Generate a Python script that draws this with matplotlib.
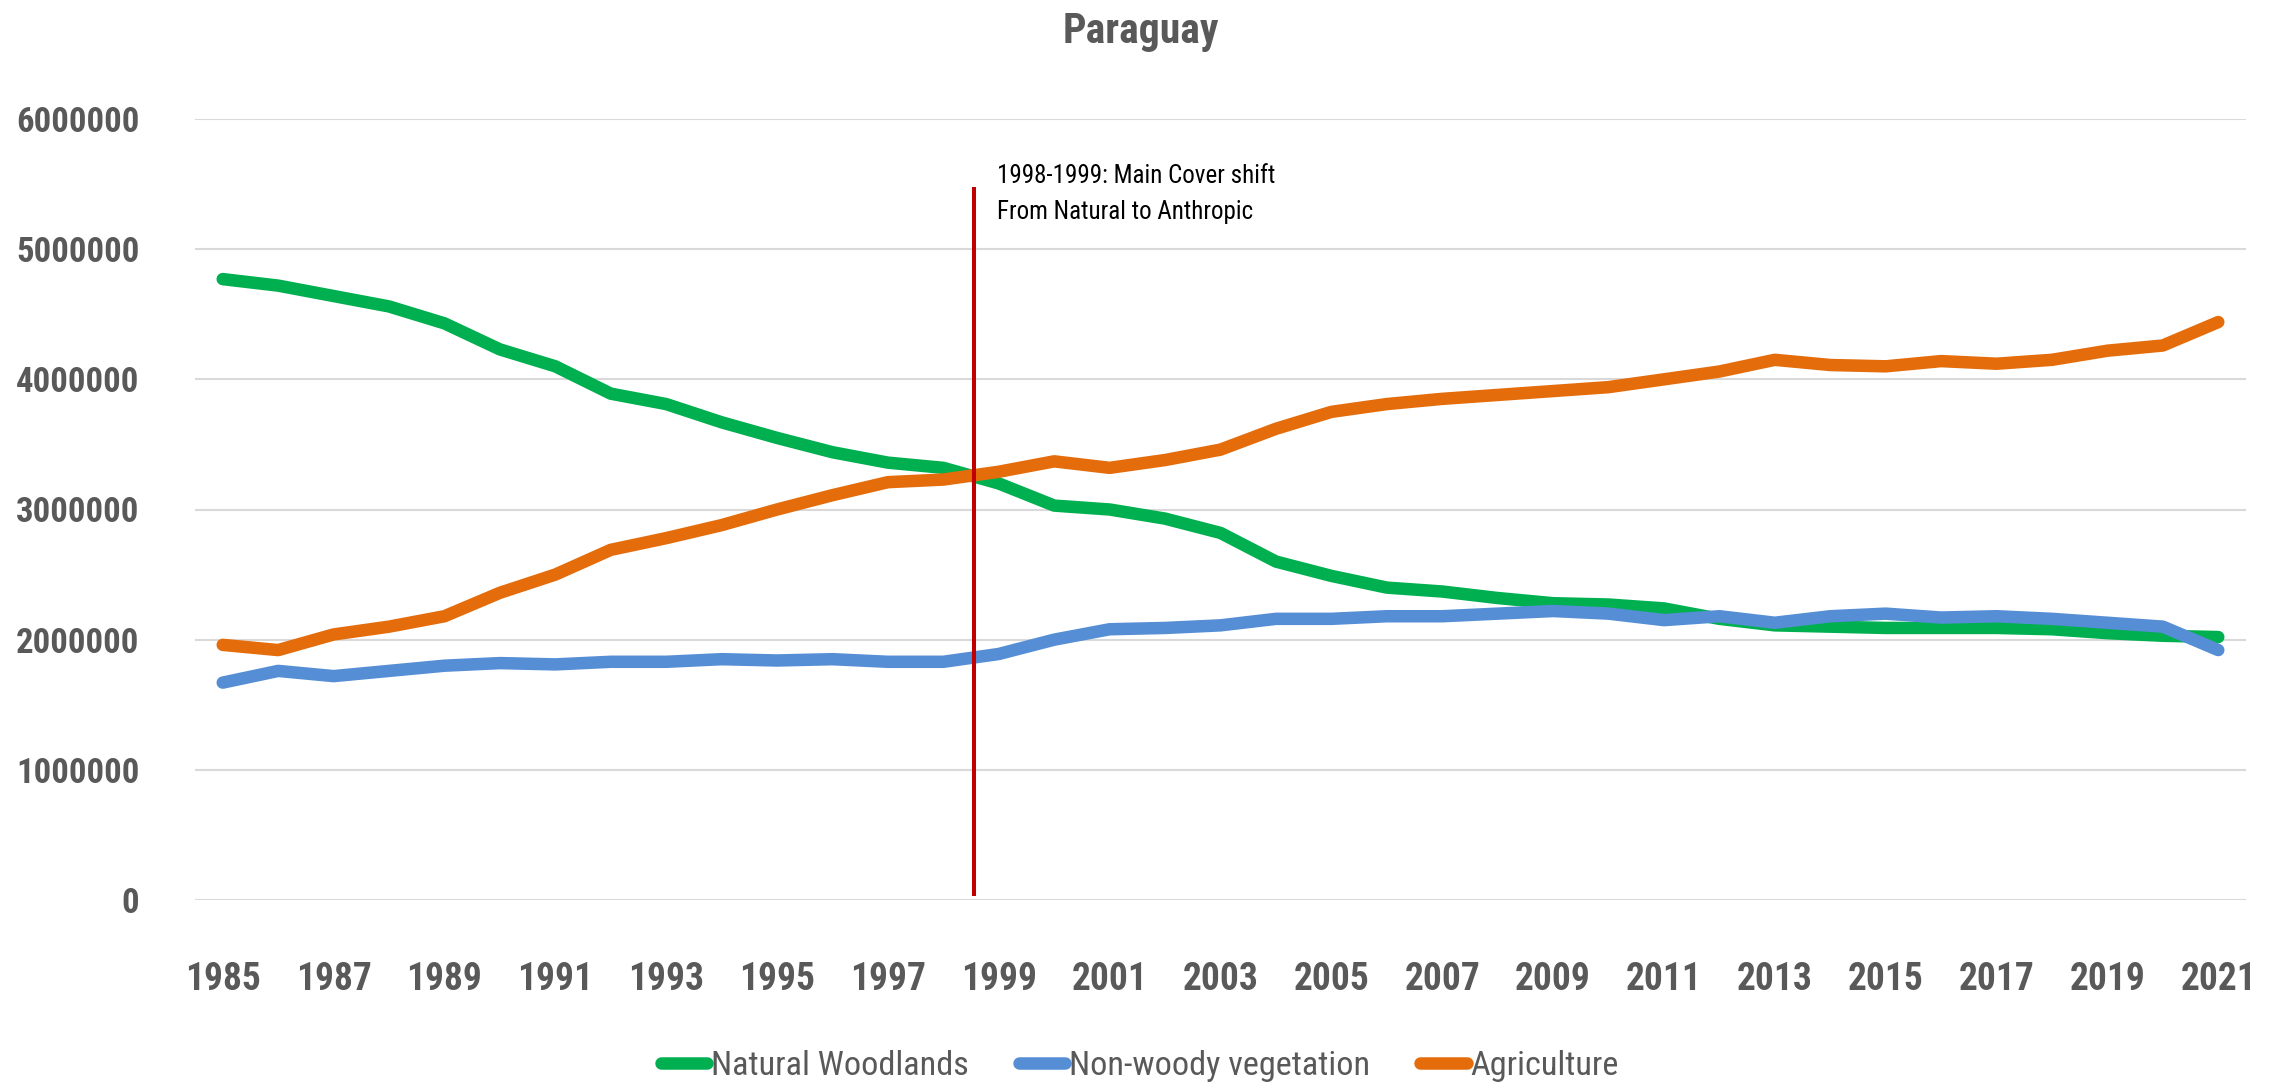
import matplotlib
matplotlib.use("Agg")
import matplotlib.pyplot as plt
import matplotlib.font_manager as fm

# ---------------- data ----------------
years = list(range(1985, 2022))
tick_years = list(range(1985, 2022, 2))
tick_labels = [str(y) for y in tick_years]
y_ticks = [0, 1000000, 2000000, 3000000, 4000000, 5000000, 6000000]
y_tick_labels = [str(v) for v in y_ticks]

series_names = ["Natural Woodlands", "Non-woody vegetation", "Agriculture"]

natural_woodlands = [4.77, 4.72, 4.64, 4.56, 4.43, 4.23, 4.10, 3.89, 3.81, 3.67,
                     3.55, 3.44, 3.36, 3.32, 3.20, 3.03, 3.00, 2.93, 2.82, 2.60,
                     2.49, 2.40, 2.37, 2.32, 2.28, 2.27, 2.24, 2.16, 2.11, 2.10,
                     2.09, 2.09, 2.09, 2.08, 2.05, 2.03, 2.02]
non_woody = [1.67, 1.76, 1.72, 1.76, 1.80, 1.82, 1.81, 1.83, 1.83, 1.85,
             1.84, 1.85, 1.83, 1.83, 1.89, 2.00, 2.08, 2.09, 2.11, 2.16,
             2.16, 2.18, 2.18, 2.20, 2.22, 2.20, 2.15, 2.18, 2.13, 2.18,
             2.20, 2.17, 2.18, 2.16, 2.13, 2.10, 1.92]
agriculture = [1.96, 1.92, 2.04, 2.10, 2.18, 2.36, 2.50, 2.69, 2.78, 2.88,
               3.00, 3.11, 3.21, 3.23, 3.29, 3.37, 3.32, 3.38, 3.46, 3.62,
               3.75, 3.81, 3.85, 3.88, 3.91, 3.94, 4.00, 4.06, 4.15, 4.11,
               4.10, 4.14, 4.12, 4.15, 4.22, 4.26, 4.44]
natural_woodlands = [v * 1e6 for v in natural_woodlands]
non_woody = [v * 1e6 for v in non_woody]
agriculture = [v * 1e6 for v in agriculture]

title = "Paraguay"
annotation_lines = ["1998-1999: Main Cover shift", "From Natural to Anthropic"]
annotation_values = [5.561e6, 5.284e6]
annot_year = 1998.96
shift_year = 1998.55
shift_bottom = 0.03e6
shift_top = 5.476e6

# ---------------- fonts ----------------
avail = {f.name for f in fm.fontManager.ttflist}
STRETCH = "normal"
if "Roboto Condensed" in avail:
    FAM = ["Roboto Condensed", "DejaVu Sans"]
    sizes = dict(title=30, ytick=25, xtick=27, legend=24.7, annot=18)
elif "Liberation Sans Narrow" in avail:
    FAM = ["Liberation Sans Narrow", "DejaVu Sans"]
    sizes = dict(title=32, ytick=27, xtick=29, legend=26, annot=19)
else:
    FAM = ["DejaVu Sans"]
    STRETCH = "condensed"
    sizes = dict(title=24, ytick=21.5, xtick=21.5, legend=22, annot=15.5)
plt.rcParams["font.family"] = FAM
plt.rcParams["font.stretch"] = STRETCH

GREY = "#595959"
colors = ["#00B050", "#558ED5", "#E46C0A"]

W, H = 2277, 1088
fig = plt.figure(figsize=(W / 100, H / 100), dpi=100)
ax = fig.add_axes([195 / W, (H - 900) / H, 2051 / W, 781 / H])

for name, vals, c in zip(series_names, [natural_woodlands, non_woody, agriculture], colors):
    ax.plot(years, vals, color=c, lw=9, solid_capstyle="round",
            solid_joinstyle="round", label=name, zorder=3)

ax.plot([shift_year, shift_year], [shift_bottom, shift_top], color="#C00000",
        lw=2.9, solid_capstyle="butt", zorder=5)
for line, val in zip(annotation_lines, annotation_values):
    ax.text(annot_year, val, line, ha="left", va="center",
            fontsize=sizes["annot"], color="black", zorder=6)

ax.set_xlim(years[0] - 0.5, years[-1] + 0.5)
ax.set_ylim(0, 6e6)
ax.set_xticks(tick_years)
ax.set_xticklabels(tick_labels)
ax.set_yticks(y_ticks)
ax.set_yticklabels(y_tick_labels)
ax.tick_params(axis="both", length=0, colors=GREY)
ax.tick_params(axis="y", pad=40, labelsize=sizes["ytick"])
ax.tick_params(axis="x", pad=44, labelsize=sizes["xtick"])
for lab in ax.get_xticklabels() + ax.get_yticklabels():
    lab.set_fontweight("bold")
    lab.set_color(GREY)

ax.yaxis.grid(True, color="#D9D9D9", lw=1.5, zorder=0)
ax.xaxis.grid(False)
for sp in ax.spines.values():
    sp.set_visible(False)
ax.set_facecolor("white")

fig.text(1141 / W, 1 - 31 / H, title, ha="center", va="center",
         fontsize=sizes["title"], fontweight="bold", color=GREY)

leg = fig.legend(loc="center", bbox_to_anchor=(1140 / W, 1 - 1066 / H), ncol=3,
                 frameon=False, fontsize=sizes["legend"], handlelength=1.35,
                 handletextpad=0.12, columnspacing=1.45, borderpad=0)
for t in leg.get_texts():
    t.set_color(GREY)

fig.savefig("out.png", dpi=100, facecolor="white")
